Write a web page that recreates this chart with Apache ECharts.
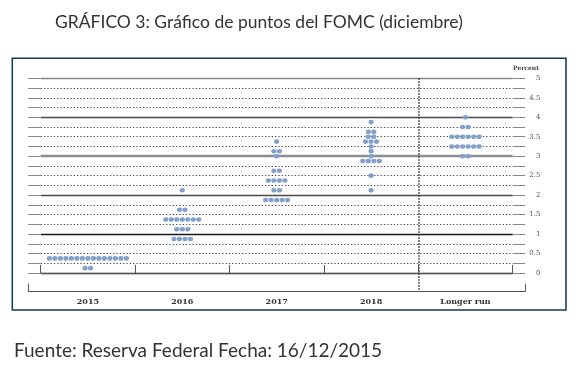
<!DOCTYPE html>
<html><head><meta charset="utf-8">
<script src="https://cdn.jsdelivr.net/npm/echarts@6/dist/echarts.min.js"></script>
<style>html,body{margin:0;padding:0;background:#fff}#c{width:582px;height:367px}</style>
</head><body><div id="c"></div>
<script>
// ---- data ----
const categories = ['2015', '2016', '2017', '2018', 'Longer run'];
// [rate, number of participants]
const dots2015 = [[0.375, 15], [0.125, 2]];
const dots2016 = [[2.125, 1], [1.625, 2], [1.375, 7], [1.125, 3], [0.875, 4]];
const dots2017 = [[3.375, 1], [3.125, 2], [3.0, 1], [2.625, 2], [2.375, 4], [2.125, 2], [1.875, 5]];
const dots2018 = [[3.875, 1], [3.625, 2], [3.5, 2], [3.375, 3], [3.25, 1], [3.125, 1], [3.0, 1], [2.875, 4], [2.5, 1], [2.125, 1]];
const dotsLongerRun = [[4.0, 1], [3.75, 2], [3.5, 6], [3.25, 6], [3.0, 2]];
const yTickLabels = ['0', '0.5', '1', '1.5', '2', '2.5', '3', '3.5', '4', '4.5', '5'];
const titleText = 'GRÁFICO 3: Gráfico de puntos del FOMC (diciembre)';
const sourceText = 'Fuente: Reserva Federal Fecha: 16/12/2015';
const unitText = 'Percent';

// ---- build ----
const allDots = [dots2015, dots2016, dots2017, dots2018, dotsLongerRun];
const DOT_STEP = 5.5;
const scatterData = [];
allDots.forEach((rows, ci) => {
  rows.forEach(([rate, n]) => {
    for (let j = 0; j < n; j++) {
      scatterData.push({ value: [ci, rate], symbolOffset: [(j - (n - 1) / 2) * DOT_STEP, 0] });
    }
  });
});

const T = 'rgba(0,0,0,0)';
const dottedColors = [];
for (let i = 0; i <= 20; i++) dottedColors.push(i % 4 === 0 ? T : '#4a4a4a');
const solidColors = ['#1a1a1a', '#1a1a1a', '#4a4a4a', T, '#4a4a4a', '#888'];
const thickColors = [T, T, T, '#8f8f8f', T, T];
const vColors = [T, T, T, T, '#333', T];

const serif = '"DejaVu Serif", "Liberation Serif", serif';
const G = { left: 40.7, right: 69.3, top: 78.3, bottom: 94 };

const chart = echarts.init(document.getElementById('c'), null, { renderer: 'canvas' });
chart.setOption({
  animation: false,
  backgroundColor: '#fff',
  title: {
    text: titleText, left: 50, top: 8,
    textStyle: { fontFamily: 'Lato', fontSize: 17.5, fontWeight: 'normal', color: '#333' }
  },
  graphic: [
    { type: 'rect', shape: { x: 12.3, y: 58.3, width: 553.7, height: 251.7 }, style: { fill: 'none', stroke: '#0e3a52', lineWidth: 1.5 }, z: -1 },
    { type: 'text', left: 14, top: 341, style: { text: sourceText, font: '19px Lato', fill: '#333' } },
    { type: 'text', x: 526, y: 68, style: { text: unitText, font: 'bold 6px ' + serif, fill: '#444', textAlign: 'center', textVerticalAlign: 'middle' } }
  ],
  grid: [
    { left: G.left, right: G.right, top: G.top, bottom: G.bottom },
    { left: G.left, right: G.right, top: G.top, bottom: 75.3 },
    { left: 28.3, right: 57, top: G.top, bottom: 75.3 }
  ],
  xAxis: [
    {
      type: 'category', gridIndex: 0, data: categories, offset: 18.7,
      axisLine: { show: true, lineStyle: { color: '#555', width: 1 } },
      axisTick: { show: true, inside: true, length: 8, lineStyle: { color: '#555' } },
      axisLabel: { margin: 6, fontFamily: serif, fontSize: 8, fontWeight: 'bold', color: '#333' },
      splitLine: { show: false }
    },
    {
      type: 'value', gridIndex: 1, min: 0, max: 5, interval: 1,
      axisLine: { show: false }, axisTick: { show: false }, axisLabel: { show: false },
      splitLine: { show: true, lineStyle: { color: vColors, type: [1.5, 1.5], width: 1.6 } }
    },
    {
      type: 'value', gridIndex: 2, min: 0, max: 1, interval: 1,
      axisLine: { show: true, lineStyle: { color: '#555', width: 1 } },
      axisTick: { show: true, inside: true, length: 8, lineStyle: { color: '#555' } },
      axisLabel: { show: false }, splitLine: { show: false }
    }
  ],
  yAxis: [
    {
      type: 'value', gridIndex: 0, min: 0, max: 5, interval: 0.25, position: 'left',
      axisLine: { show: false },
      axisTick: { show: true, length: 12.4, lineStyle: { color: '#888' } },
      axisLabel: { show: false },
      splitLine: { show: true, lineStyle: { color: dottedColors, type: [1.3, 2], width: 1 } }
    },
    {
      type: 'value', gridIndex: 0, min: 0, max: 5, interval: 0.25, position: 'right',
      axisLine: { show: false },
      axisTick: { show: true, length: 12.4, lineStyle: { color: '#888' } },
      axisLabel: {
        show: true, margin: 27.8, align: 'right', fontFamily: serif, fontSize: 7, color: '#555',
        formatter: v => (Math.abs(v * 2 - Math.round(v * 2)) < 1e-9 ? yTickLabels[Math.round(v * 2)] : '')
      },
      splitLine: { show: false }
    },
    {
      type: 'value', gridIndex: 0, min: 0, max: 5, interval: 1,
      axisLine: { show: false }, axisTick: { show: false }, axisLabel: { show: false },
      splitLine: { show: true, lineStyle: { color: solidColors, width: 1.3 } }
    },
    {
      type: 'value', gridIndex: 0, min: 0, max: 5, interval: 1,
      axisLine: { show: false }, axisTick: { show: false }, axisLabel: { show: false },
      splitLine: { show: true, lineStyle: { color: thickColors, width: 2.4 } }
    },
    { type: 'value', gridIndex: 1, min: 0, max: 1, show: false },
    { type: 'value', gridIndex: 2, min: 0, max: 1, show: false }
  ],
  series: [
    {
      type: 'scatter', xAxisIndex: 0, yAxisIndex: 0, data: scatterData,
      symbol: 'circle', symbolSize: [5.2, 4.6],
      itemStyle: { color: '#82a0cb', opacity: 1 }, z: 5
    },
    { type: 'scatter', xAxisIndex: 1, yAxisIndex: 4, data: [] },
    { type: 'scatter', xAxisIndex: 2, yAxisIndex: 5, data: [] }
  ]
});
</script></body></html>
